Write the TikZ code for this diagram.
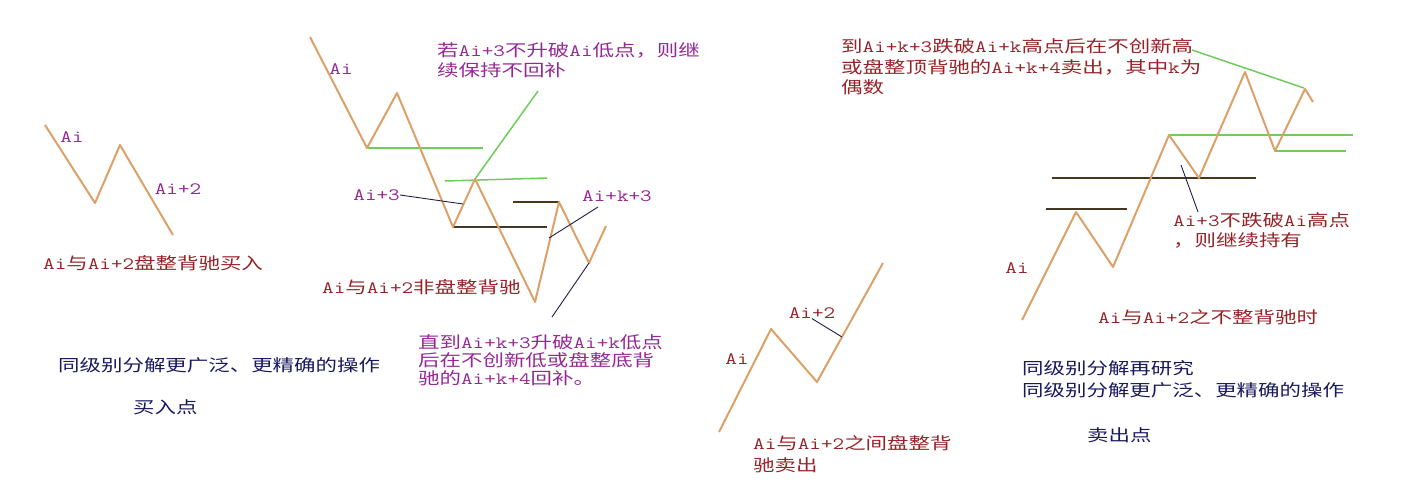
\documentclass[tikz,border=0pt]{standalone}
\usepackage{fontspec}
\usetikzlibrary{positioning}
\newfontfamily\cnfont[FakeStretch=1.3]{Noto Sans CJK SC}
\newfontfamily\enfont[Scale=1.05,FakeStretch=1.3]{Latin Modern Mono}
\newcommand\en[1]{{\enfont #1}}
\definecolor{wavetan}{RGB}{220,160,105}
\definecolor{levelgreen}{RGB}{110,205,90}
\definecolor{leveldark}{RGB}{70,55,35}
\definecolor{leadnavy}{RGB}{30,30,70}
\definecolor{notepurple}{RGB}{150,40,150}
\definecolor{notered}{RGB}{150,35,40}
\definecolor{notenavy}{RGB}{25,25,95}

\begin{document}
\begin{tikzpicture}[x=1pt,y=-1pt]
	\tikzset{wave/.style={draw=wavetan, line width=2pt, line join=round},
		glevel/.style={draw=levelgreen, line width=1.5pt},
		dlevel/.style={draw=leveldark, line width=1.5pt},
		lead/.style={draw=leadnavy, line width=.9pt},
		note/.style={anchor=west, align=left, inner sep=0pt, font=\cnfont\fontsize{16.5}{20}\selectfont},
		pnote/.style={note, text=notepurple},
		rnote/.style={note, text=notered},
		bnote/.style={note, text=notenavy},
	}
	\useasboundingbox (0,0) rectangle (1402,490);
	% buy point, consolidation divergence
	\coordinate (p1) at (45,125);
	\coordinate (p2) at (95,203);
	\coordinate (p3) at (120,145);
	\coordinate (p4) at (173,235);
	\draw [wave] (p1) -- (p2) -- (p3) -- (p4);
	\node [pnote, anchor=center] (pai) at (72,137) {\en{Ai}};
	\node [pnote, anchor=center] (pai2) at (178,189) {\en{Ai+2}};
	\node [rnote] (pcap) at (43,263) {\en{Ai}与\en{Ai+2}盘整背驰买入};
	\node [bnote] (buyop) at (58,365) {同级别分解更广泛、更精确的操作};
	\node [bnote] (buypt) at (133,407) {买入点};
	% buy point, no consolidation divergence
	\coordinate (q1) at (310,37);
	\coordinate (q2) at (367,148);
	\coordinate (q3) at (397,93);
	\coordinate (q4) at (453,227);
	\coordinate (q5) at (475,179);
	\coordinate (q6) at (535,302);
	\coordinate (q7) at (559,202);
	\coordinate (q8) at (589,263);
	\coordinate (q9) at (606,226);
	\draw [glevel] (q2) -- +(116,0);
	\draw [glevel] (445,181) -- (547,178);
	\draw [glevel] (q5) -- +(63,-88);
	\draw [dlevel] (q4) -- +(94,0);
	\draw [dlevel] (q7) -- +(-46,0);
	\draw [wave] (q1) -- (q2) -- (q3) -- (q4) -- (q5) -- (q6) -- (q7) -- (q8) -- (q9);
	\node [pnote, anchor=center] (qai) at (341,69) {\en{Ai}};
	\node [pnote, anchor=east] (qai3) at (400,195) {\en{Ai+3}};
	\coordinate (qt3) at (463,204);
	\draw [lead] (qai3.east) -- (qt3);
	\node [pnote, anchor=center] (qaik3) at (617,196) {\en{Ai+k+3}};
	\coordinate (qk3) at (598,207);
	\coordinate (qtk3) at (549,238);
	\draw [lead] (qk3) -- (qtk3);
	\coordinate (qlow) at (552,317);
	\draw [lead] (q8) -- (qlow);
	\node [pnote] (qkeep) at (437,60) {若\en{Ai+3}不升破\en{Ai}低点，则继\\续保持不回补};
	\node [rnote] (qcap) at (322,287) {\en{Ai}与\en{Ai+2}非盘整背驰};
	\node [pnote, font=\cnfont\fontsize{16.5}{18}\selectfont] (qback) at (418,360) {直到\en{Ai+k+3}升破\en{Ai+k}低点\\后在不创新低或盘整底背\\驰的\en{Ai+k+4}回补。};
	% sell point, consolidation divergence
	\coordinate (u1) at (719,432);
	\coordinate (u2) at (771,329);
	\coordinate (u3) at (817,382);
	\coordinate (u4) at (883,263);
	\draw [wave] (u1) -- (u2) -- (u3) -- (u4);
	\node [rnote, anchor=center] (uai) at (737,359) {\en{Ai}};
	\node [rnote, anchor=center] (uai2) at (812,313) {\en{Ai+2}};
	\coordinate (ut2) at (842,337);
	\draw [lead] (uai2.south) -- (ut2);
	\node [rnote, font=\cnfont\fontsize{16.5}{22}\selectfont] (ucap) at (753,454) {\en{Ai}与\en{Ai+2}之间盘整背\\驰卖出};
	% sell point, no consolidation divergence
	\coordinate (s1) at (1022,320);
	\coordinate (s2) at (1076,212);
	\coordinate (s3) at (1113,267);
	\coordinate (s4) at (1169,135);
	\coordinate (s5) at (1199,178);
	\coordinate (s6) at (1245,72);
	\coordinate (s7) at (1275,151);
	\coordinate (s8) at (1305,89);
	\coordinate (s9) at (1313,102);
	\draw [dlevel] (1046,209) -- (1127,209);
	\draw [dlevel] (1052,178) -- (1256,178);
	\draw [glevel] (s4) -- +(184,0);
	\draw [glevel] (s7) -- +(71,0);
	\draw [glevel] (1192,50) -- (1304,88);
	\draw [wave] (s1) -- (s2) -- (s3) -- (s4) -- (s5) -- (s6) -- (s7) -- (s8) -- (s9);
	\node [rnote, anchor=center] (sai) at (1017,268) {\en{Ai}};
	\node [rnote] (shold) at (1173,230) {\en{Ai+3}不跌破\en{Ai}高点\\，则继续持有};
	\coordinate (sl1) at (1181,165);
	\draw [lead] (sl1) -- (shold.north west -| 1198,0);
	\node [rnote, font=\cnfont\fontsize{16.5}{20.5}\selectfont] (ssell) at (841,67) {到\en{Ai+k+3}跌破\en{Ai+k}高点后在不创新高\\或盘整顶背驰的\en{Ai+k+4}卖出，其中\en{k}为\\偶数};
	\node [rnote] (scap) at (1098,317) {\en{Ai}与\en{Ai+2}之不整背驰时};
	\node [bnote, font=\cnfont\fontsize{16.5}{22}\selectfont] (sellop) at (1022,379) {同级别分解再研究\\同级别分解更广泛、更精确的操作};
	\node [bnote] (sellpt) at (1087,435) {卖出点};
\end{tikzpicture}
\end{document}
